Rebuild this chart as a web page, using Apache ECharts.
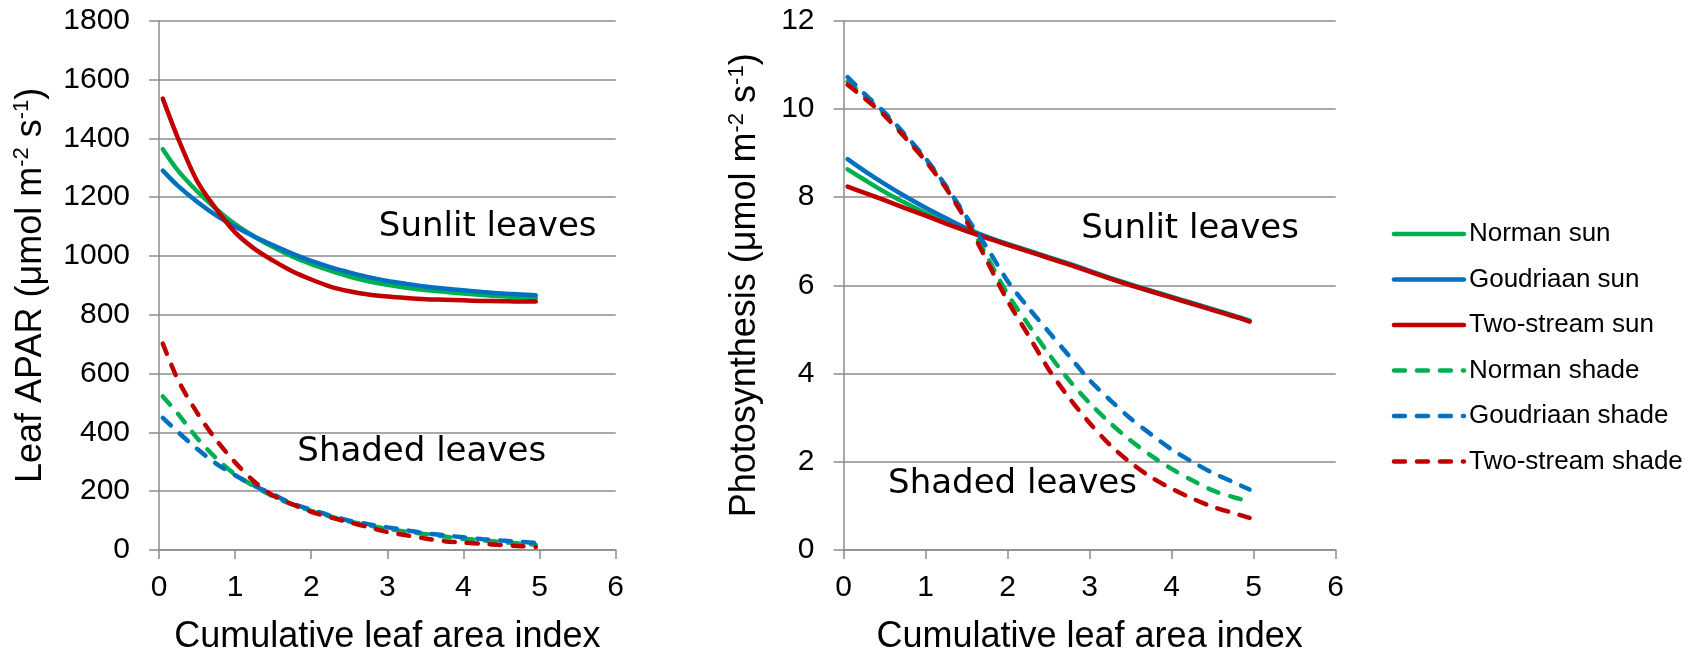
<!DOCTYPE html>
<html>
<head>
<meta charset="utf-8">
<script src="https://cdn.jsdelivr.net/npm/echarts@6.0.0/dist/echarts.min.js"></script>
<style>
  html, body { margin: 0; padding: 0; background: #fff; }
  #chart { width: 1696px; height: 660px; }
</style>
</head>
<body>
<div id="chart"></div>
<script>
// cumulative leaf area index (x positions shared by every curve)
const lai = [0.05, 0.25, 0.5, 0.75, 1, 1.25, 1.5, 1.75, 2, 2.25, 2.5, 2.75, 3, 3.25, 3.5, 3.75, 4, 4.25, 4.5, 4.75, 4.95]

// left panel: leaf APAR (umol m-2 s-1)
const aparNormanSun = [1363, 1290, 1220, 1160, 1108, 1066, 1030, 998, 972, 950, 930, 914, 902, 892, 884, 878, 872, 867, 863, 860, 857]
const aparGoudriaanSun = [1290, 1238, 1184, 1138, 1100, 1066, 1036, 1008, 983, 962, 944, 928, 915, 905, 896, 889, 883, 877, 872, 869, 866]
const aparTwoStreamSun = [1535, 1400, 1255, 1160, 1080, 1025, 984, 948, 920, 896, 880, 869, 862, 857, 853, 851, 849, 847, 846, 845, 845]
const aparNormanShade = [522, 463, 381, 312, 257, 217, 182, 155, 133, 114, 97, 84, 72, 62, 54, 46, 38, 33, 27, 22, 18]
const aparGoudriaanShade = [449, 401, 344, 294, 254, 219, 189, 158, 137, 117, 100, 88, 77, 67, 57, 50, 43, 37, 32, 28, 24]
const aparTwoStreamShade = [702, 578, 467, 375, 298, 233, 185, 156, 130, 111, 94, 78, 61, 50, 39, 30, 25, 21, 17, 13, 10]

// right panel: photosynthesis (umol m-2 s-1)
const psNormanSun = [8.63, 8.4, 8.12, 7.87, 7.64, 7.43, 7.25, 7.09, 6.94, 6.79, 6.64, 6.49, 6.33, 6.17, 6.02, 5.88, 5.74, 5.6, 5.46, 5.32, 5.2]
const psGoudriaanSun = [8.86, 8.6, 8.3, 8.02, 7.76, 7.52, 7.29, 7.1, 6.93, 6.78, 6.63, 6.48, 6.32, 6.16, 6.01, 5.87, 5.73, 5.59, 5.45, 5.31, 5.19]
const psTwoStreamSun = [8.24, 8.1, 7.93, 7.75, 7.58, 7.4, 7.23, 7.07, 6.92, 6.77, 6.62, 6.47, 6.31, 6.15, 6.0, 5.86, 5.72, 5.58, 5.44, 5.3, 5.18]
const psNormanShade = [10.62, 10.3, 9.88, 9.38, 8.85, 8.22, 7.5, 6.65, 5.8, 5.12, 4.45, 3.85, 3.33, 2.88, 2.48, 2.14, 1.84, 1.58, 1.35, 1.2, 1.1]
const psGoudriaanShade = [10.72, 10.35, 9.92, 9.42, 8.88, 8.25, 7.55, 6.85, 6.1, 5.5, 4.95, 4.4, 3.85, 3.4, 2.98, 2.62, 2.28, 2.0, 1.75, 1.54, 1.37]
const psTwoStreamShade = [10.55, 10.25, 9.85, 9.35, 8.82, 8.2, 7.45, 6.55, 5.65, 4.88, 4.1, 3.45, 2.88, 2.38, 1.98, 1.65, 1.39, 1.17, 0.98, 0.84, 0.73]

const seriesNames = ['Norman sun', 'Goudriaan sun', 'Two-stream sun', 'Norman shade', 'Goudriaan shade', 'Two-stream shade']
const seriesColors = ['#00B050', '#0070C0', '#C00000', '#00B050', '#0070C0', '#C00000']

const font = 'Arial, "Liberation Sans", sans-serif'
const noteFont = '"Comic Sans MS", "DejaVu Sans", sans-serif'
const gridColor = '#8c8c8c'
const dash = [11, 12]

function makeLine(idx, values, panel) {
  const dashed = idx >= 3
  return {
    name: seriesNames[idx],
    type: 'line',
    xAxisIndex: panel,
    yAxisIndex: panel,
    data: lai.map((x, i) => [x, values[i]]),
    symbol: 'none',
    smooth: 0.3,
    lineStyle: {
      color: seriesColors[idx],
      width: 4.5,
      type: dashed ? dash : 'solid',
      cap: 'round'
    },
    itemStyle: { color: seriesColors[idx] }
  }
}

function xAxisFor(gridIndex) {
  return {
    type: 'value',
    gridIndex: gridIndex,
    min: 0,
    max: 6,
    interval: 1,
    name: 'Cumulative leaf area index',
    nameLocation: 'middle',
    nameGap: 69,
    nameTextStyle: { fontSize: 36, fontFamily: font, color: '#000' },
    axisLine: { show: true, lineStyle: { color: gridColor, width: 1.5 } },
    axisTick: { show: true, inside: false, length: 9, lineStyle: { color: gridColor, width: 1.5 } },
    axisLabel: { fontSize: 30, fontFamily: font, color: '#000', margin: 23, formatter: v => String(v) },
    splitLine: { show: false }
  }
}

function yAxisFor(gridIndex, max, interval, name, gap) {
  return {
    type: 'value',
    gridIndex: gridIndex,
    min: 0,
    max: max,
    interval: interval,
    name: name,
    nameLocation: 'middle',
    nameGap: gap,
    nameRotate: 90,
    nameTextStyle: {
      fontSize: 36,
      fontFamily: font,
      color: '#000',
      lineHeight: 40,
      rich: {
        sup: { fontSize: 22, fontFamily: font, color: '#000', verticalAlign: 'top', lineHeight: 22 }
      }
    },
    axisLine: { show: true, lineStyle: { color: gridColor, width: 1.5 } },
    axisTick: { show: true, inside: false, length: 10, lineStyle: { color: gridColor, width: 1.5 } },
    axisLabel: { fontSize: 30, fontFamily: font, color: '#000', margin: 29, formatter: v => String(v) },
    splitLine: { show: true, lineStyle: { color: gridColor, width: 1.5 } }
  }
}

function note(text, x, y) {
  return {
    type: 'text',
    x: x,
    y: y,
    style: {
      text: text,
      fontSize: 34,
      fontFamily: noteFont,
      fill: '#000',
      align: 'center',
      verticalAlign: 'middle'
    }
  }
}

const chart = echarts.init(document.getElementById('chart'))
chart.setOption({
  animation: false,
  backgroundColor: '#fff',
  grid: [
    { left: 159, top: 20.7, width: 456.7, height: 535.6 },
    { left: 843.5, top: 20.7, width: 492.2, height: 535.6 }
  ],
  xAxis: [xAxisFor(0), xAxisFor(1)],
  yAxis: [
    yAxisFor(0, 1800, 200, 'Leaf APAR (\u03bcmol m{sup|-2} s{sup|-1})', 108),
    yAxisFor(1, 12, 2, 'Photosynthesis (\u03bcmol m{sup|-2} s{sup|-1})', 78)
  ],
  legend: {
    orient: 'vertical',
    left: 1386.7,
    top: 216,
    itemWidth: 70,
    itemHeight: 14,
    itemGap: 19.5,
    selectedMode: false,
    textStyle: { fontSize: 26, fontFamily: font, color: '#000', lineHeight: 26 },
    data: seriesNames.map((n, i) => ({
      name: n,
      itemStyle: { opacity: 0 },
      lineStyle: { color: seriesColors[i], width: 4.5, type: i >= 3 ? dash : 'solid', cap: 'round' }
    }))
  },
  graphic: [
    note('Sunlit leaves', 487.7, 227),
    note('Shaded leaves', 421.7, 452),
    note('Sunlit leaves', 1190.1, 229),
    note('Shaded leaves', 1012.5, 484.5)
  ],
  series: [
    makeLine(0, aparNormanSun, 0),
    makeLine(1, aparGoudriaanSun, 0),
    makeLine(2, aparTwoStreamSun, 0),
    makeLine(3, aparNormanShade, 0),
    makeLine(4, aparGoudriaanShade, 0),
    makeLine(5, aparTwoStreamShade, 0),
    makeLine(0, psNormanSun, 1),
    makeLine(1, psGoudriaanSun, 1),
    makeLine(2, psTwoStreamSun, 1),
    makeLine(3, psNormanShade, 1),
    makeLine(4, psGoudriaanShade, 1),
    makeLine(5, psTwoStreamShade, 1)
  ]
})
</script>
</body>
</html>
